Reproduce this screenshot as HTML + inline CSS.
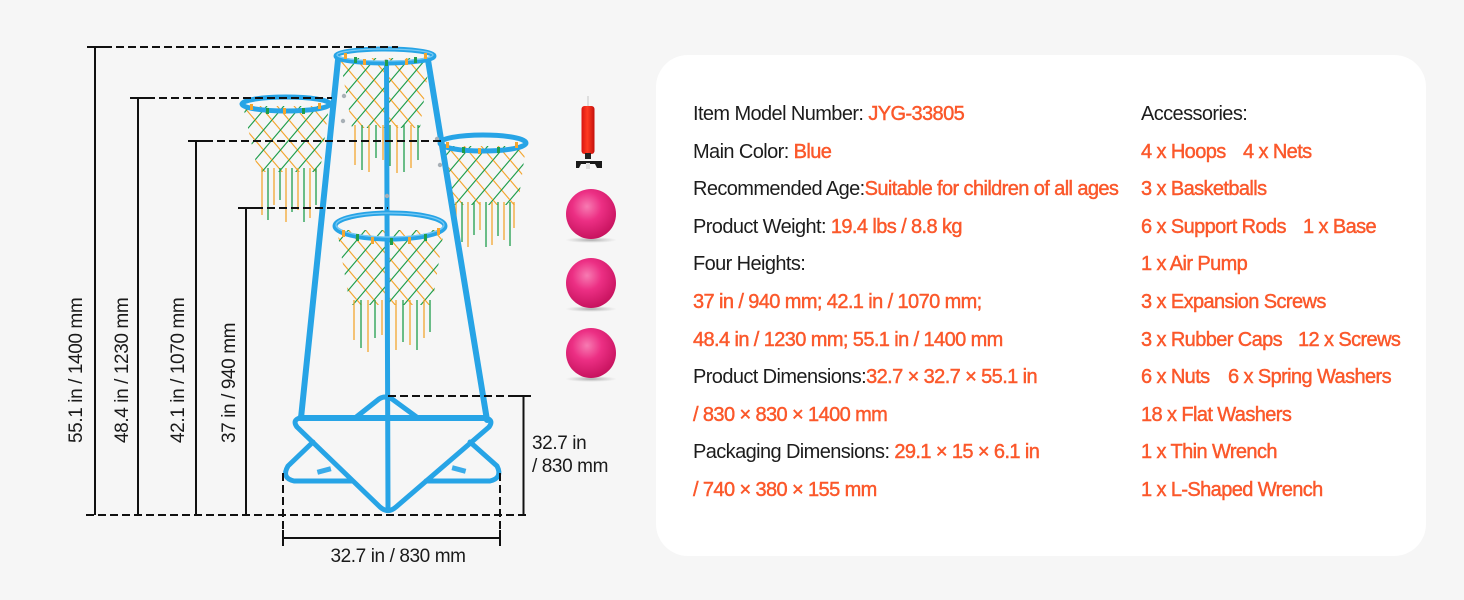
<!DOCTYPE html>
<html>
<head>
<meta charset="utf-8">
<style>
  html,body{margin:0;padding:0;}
  body{width:1464px;height:600px;background:#f6f6f6;position:relative;overflow:hidden;font-family:"Liberation Sans",Arial,sans-serif;}
  .card{position:absolute;left:656px;top:55px;width:770px;height:501px;background:#ffffff;border-radius:32px;}
  .t{position:absolute;font-size:20px;line-height:24px;letter-spacing:-0.6px;color:#1c1c1c;white-space:nowrap;}
  .o{color:#fb582b;-webkit-text-stroke:0.45px #fb582b;}
  svg{position:absolute;left:0;top:0;}
</style>
</head>
<body>
<div class="card"></div>

<svg width="1464" height="600" viewBox="0 0 1464 600">
  <defs>
    <pattern id="mesh" width="17" height="20" patternUnits="userSpaceOnUse">
      <path d="M0,0 L17,20" stroke="#f3a630" stroke-width="1.2" fill="none"/>
      <path d="M17,0 L0,20" stroke="#1f9e4c" stroke-width="1.2" fill="none"/>
    </pattern>
    <radialGradient id="ball" cx="42%" cy="35%" r="65%">
      <stop offset="0" stop-color="#f77bb2"/>
      <stop offset="0.45" stop-color="#ec2f84"/>
      <stop offset="1" stop-color="#c8135f"/>
    </radialGradient>
    <radialGradient id="shadow" cx="50%" cy="50%" r="50%">
      <stop offset="0" stop-color="#777" stop-opacity="0.6"/>
      <stop offset="1" stop-color="#999" stop-opacity="0"/>
    </radialGradient>
    <linearGradient id="pump" x1="0" x2="1" y1="0" y2="0">
      <stop offset="0" stop-color="#d8140f"/>
      <stop offset="0.45" stop-color="#ff3a22"/>
      <stop offset="1" stop-color="#c5100c"/>
    </linearGradient>
  </defs>

  <!-- NETS -->
  <g>
    <polygon points="340,58 430,58 420,128 352,128" fill="url(#mesh)"/>
    <path d="M355,125V165 M369,125V172 M383,125V160 M397,125V173 M411,125V168" stroke="#f3a630" stroke-width="1.3"/>
    <path d="M362,125V170 M376,125V158 M390,125V166 M404,125V172 M418,125V160" stroke="#1f9e4c" stroke-width="1.3"/>

    <polygon points="243,106 329,106 320,172 258,172" fill="url(#mesh)"/>
    <path d="M262,168V215 M274,168V205 M286,168V222 M298,168V210 M310,168V218" stroke="#f3a630" stroke-width="1.3"/>
    <path d="M268,168V220 M280,168V200 M292,168V212 M304,168V222 M316,168V205" stroke="#1f9e4c" stroke-width="1.3"/>

    <polygon points="441,146 526,146 518,205 450,205" fill="url(#mesh)"/>
    <path d="M456,202V238 M468,202V247 M480,202V230 M492,202V245 M504,202V240 M514,202V228" stroke="#f3a630" stroke-width="1.3"/>
    <path d="M462,202V242 M474,202V235 M486,202V247 M498,202V236 M510,202V246" stroke="#1f9e4c" stroke-width="1.3"/>

    <polygon points="337,230 444,230 432,305 350,305" fill="url(#mesh)"/>
    <path d="M354,300V340 M368,300V352 M382,300V335 M396,300V350 M410,300V345 M424,300V338" stroke="#f3a630" stroke-width="1.3"/>
    <path d="M361,300V348 M375,300V338 M389,300V352 M403,300V342 M417,300V350 M430,300V332" stroke="#1f9e4c" stroke-width="1.3"/>
  </g>

  <!-- TOWER -->
  <g stroke="#27a4e6" fill="none" stroke-linecap="round" stroke-linejoin="round">
    <line x1="338" y1="60" x2="301" y2="418" stroke-width="6"/>
    <line x1="428" y1="60" x2="487" y2="420" stroke-width="6"/>
    <line x1="386.5" y1="62" x2="388" y2="507" stroke-width="5"/>
    <path d="M355,418 L379,399 Q385,395 392,399 L418,418" stroke-width="5"/>
    <path d="M300,418 L486,418" stroke-width="6"/>
    <path d="M300,418 Q292,420 297,427 L380,507 Q388,514 396,507 L489,427 Q494,420 486,418" stroke-width="5"/>
    <path d="M313,442 L288,466 Q281,478 294,481 L352,481" stroke-width="5"/>
    <path d="M470,442 L497,466 Q503,478 490,481 L426,481" stroke-width="5"/>
    <ellipse cx="385" cy="56" rx="49" ry="7" stroke-width="5"/>
    <ellipse cx="286" cy="104" rx="44" ry="7" stroke-width="5"/>
    <ellipse cx="483" cy="143" rx="43" ry="8" stroke-width="5"/>
    <ellipse cx="390" cy="226" rx="55" ry="13" stroke-width="5"/>
  </g>
  <g stroke="#8fd3f7" fill="none" stroke-width="1.2" opacity="0.8">
    <ellipse cx="385" cy="55" rx="48" ry="6"/>
    <ellipse cx="390" cy="225" rx="54" ry="12"/>
  </g>
  <g fill="#3aacea">
    <rect x="317" y="468" width="14" height="5" transform="rotate(-15 324 470)"/>
    <rect x="452" y="467" width="14" height="5" transform="rotate(15 459 469)"/>
  </g>
  <g fill="#a8b0b6">
    <circle cx="344" cy="96" r="2.2"/>
    <circle cx="343" cy="121" r="2.2"/>
    <circle cx="437" cy="139" r="2.2"/>
    <circle cx="440" cy="165" r="2.2"/>
    <circle cx="387" cy="196" r="2.2"/>
    <circle cx="386" cy="61" r="1.8"/>
  </g>
  <g fill="#f3a630">
    <rect x="344" y="53" width="3" height="6"/><rect x="363" y="59" width="3" height="6"/><rect x="405" y="59" width="3" height="6"/><rect x="424" y="53" width="3" height="6"/>
    <rect x="250" y="104" width="3" height="6"/><rect x="283" y="108" width="3" height="6"/><rect x="318" y="103" width="3" height="6"/>
    <rect x="446" y="142" width="3" height="6"/><rect x="478" y="148" width="3" height="6"/><rect x="515" y="142" width="3" height="6"/>
    <rect x="342" y="230" width="3" height="7"/><rect x="371" y="237" width="3" height="7"/><rect x="408" y="237" width="3" height="7"/><rect x="437" y="228" width="3" height="7"/>
  </g>
  <g fill="#1f9e4c">
    <rect x="354" y="57" width="3" height="6"/><rect x="385" y="60" width="3" height="6"/><rect x="414" y="57" width="3" height="6"/>
    <rect x="266" y="108" width="3" height="6"/><rect x="302" y="108" width="3" height="6"/>
    <rect x="462" y="147" width="3" height="6"/><rect x="497" y="147" width="3" height="6"/>
    <rect x="356" y="234" width="3" height="7"/><rect x="390" y="238" width="3" height="7"/><rect x="424" y="234" width="3" height="7"/>
  </g>

  <!-- PUMP -->
  <line x1="588" y1="96" x2="588" y2="107" stroke="#cfcfcf" stroke-width="1.2"/>
  <rect x="581.5" y="106" width="13" height="48" rx="3" fill="url(#pump)"/>
  <rect x="585" y="153" width="6" height="6" fill="#222"/>
  <path d="M576,161 L602,161 L602,168 L597,168 L595,164 L581,164 L579,168 L576,168 Z" fill="#1a1a1a"/>
  <rect x="586" y="163" width="4" height="6" fill="#ddd"/>

  <!-- BALLS -->
  <ellipse cx="591" cy="240" rx="26" ry="3" fill="url(#shadow)"/>
  <circle cx="591" cy="214" r="25" fill="url(#ball)"/>
  <ellipse cx="591" cy="309" rx="26" ry="3" fill="url(#shadow)"/>
  <circle cx="591" cy="283" r="25" fill="url(#ball)"/>
  <ellipse cx="591" cy="379" rx="26" ry="3" fill="url(#shadow)"/>
  <circle cx="591" cy="353" r="25" fill="url(#ball)"/>

  <!-- DIMENSION LINES -->
  <g stroke="#111" stroke-width="2" fill="none">
    <line x1="95" y1="47" x2="95" y2="515"/>
    <line x1="138" y1="98" x2="138" y2="515"/>
    <line x1="196" y1="141" x2="196" y2="515"/>
    <line x1="246" y1="208" x2="246" y2="515"/>
    <line x1="87" y1="47" x2="104" y2="47"/>
    <line x1="130" y1="98" x2="147" y2="98"/>
    <line x1="188" y1="141" x2="205" y2="141"/>
    <line x1="238" y1="208" x2="255" y2="208"/>
    <line x1="516" y1="396" x2="531" y2="396"/>
    <line x1="523.5" y1="396" x2="523.5" y2="515"/>
    <line x1="283" y1="530" x2="283" y2="546"/>
    <line x1="500" y1="530" x2="500" y2="546"/>
    <line x1="283" y1="538" x2="500" y2="538"/>
  </g>
  <g stroke="#111" stroke-width="2" fill="none" stroke-dasharray="8 4">
    <line x1="104" y1="47" x2="398" y2="47"/>
    <line x1="147" y1="98" x2="332" y2="98"/>
    <line x1="205" y1="141" x2="444" y2="141"/>
    <line x1="255" y1="208" x2="388" y2="208"/>
    <line x1="388" y1="396" x2="516" y2="396"/>
    <line x1="86" y1="515" x2="530" y2="515"/>
    <line x1="283" y1="473" x2="283" y2="530"/>
    <line x1="500" y1="473" x2="500" y2="530"/>
  </g>
  <g font-family="Liberation Sans, Arial, sans-serif" font-size="19" fill="#1a1a1a" letter-spacing="-0.4">
    <text transform="translate(82,443) rotate(-90)">55.1 in / 1400 mm</text>
    <text transform="translate(128,443) rotate(-90)">48.4 in / 1230 mm</text>
    <text transform="translate(184,443) rotate(-90)">42.1 in / 1070 mm</text>
    <text transform="translate(235,443) rotate(-90)">37 in / 940 mm</text>
    <text x="398" y="562" text-anchor="middle">32.7 in / 830 mm</text>
    <text x="532" y="449">32.7 in</text>
    <text x="532" y="472">/ 830 mm</text>
  </g>
</svg>

<!-- LEFT COLUMN -->
<div class="t" style="left:693px;top:102px;">Item Model Number: <span class="o">JYG-33805</span></div>
<div class="t" style="left:693px;top:139.6px;">Main Color: <span class="o">Blue</span></div>
<div class="t" style="left:693px;top:177.2px;">Recommended Age:<span class="o">Suitable for children of all ages</span></div>
<div class="t" style="left:693px;top:214.8px;">Product Weight: <span class="o">19.4 lbs / 8.8 kg</span></div>
<div class="t" style="left:693px;top:252.4px;">Four Heights:</div>
<div class="t o" style="left:693px;top:290px;">37 in / 940 mm; 42.1 in / 1070 mm;</div>
<div class="t o" style="left:693px;top:327.6px;">48.4 in / 1230 mm; 55.1 in / 1400 mm</div>
<div class="t" style="left:693px;top:365.2px;">Product Dimensions:<span class="o">32.7 × 32.7 × 55.1 in</span></div>
<div class="t o" style="left:693px;top:402.8px;">/ 830 × 830 × 1400 mm</div>
<div class="t" style="left:693px;top:440.4px;">Packaging Dimensions: <span class="o">29.1 × 15 × 6.1 in</span></div>
<div class="t o" style="left:693px;top:478px;">/ 740 × 380 × 155 mm</div>

<!-- RIGHT COLUMN -->
<div class="t" style="left:1141px;top:102px;">Accessories:</div>
<div class="t o" style="left:1141px;top:139.6px;">4 x Hoops</div>
<div class="t o" style="left:1243px;top:139.6px;">4 x Nets</div>
<div class="t o" style="left:1141px;top:177.2px;">3 x Basketballs</div>
<div class="t o" style="left:1141px;top:214.8px;">6 x Support Rods</div>
<div class="t o" style="left:1303px;top:214.8px;">1 x Base</div>
<div class="t o" style="left:1141px;top:252.4px;">1 x Air Pump</div>
<div class="t o" style="left:1141px;top:290px;">3 x Expansion Screws</div>
<div class="t o" style="left:1141px;top:327.6px;">3 x Rubber Caps</div>
<div class="t o" style="left:1298px;top:327.6px;">12 x Screws</div>
<div class="t o" style="left:1141px;top:365.2px;">6 x Nuts</div>
<div class="t o" style="left:1228px;top:365.2px;">6 x Spring Washers</div>
<div class="t o" style="left:1141px;top:402.8px;">18 x Flat Washers</div>
<div class="t o" style="left:1141px;top:440.4px;">1 x Thin Wrench</div>
<div class="t o" style="left:1141px;top:478px;">1 x L-Shaped Wrench</div>

</body>
</html>
